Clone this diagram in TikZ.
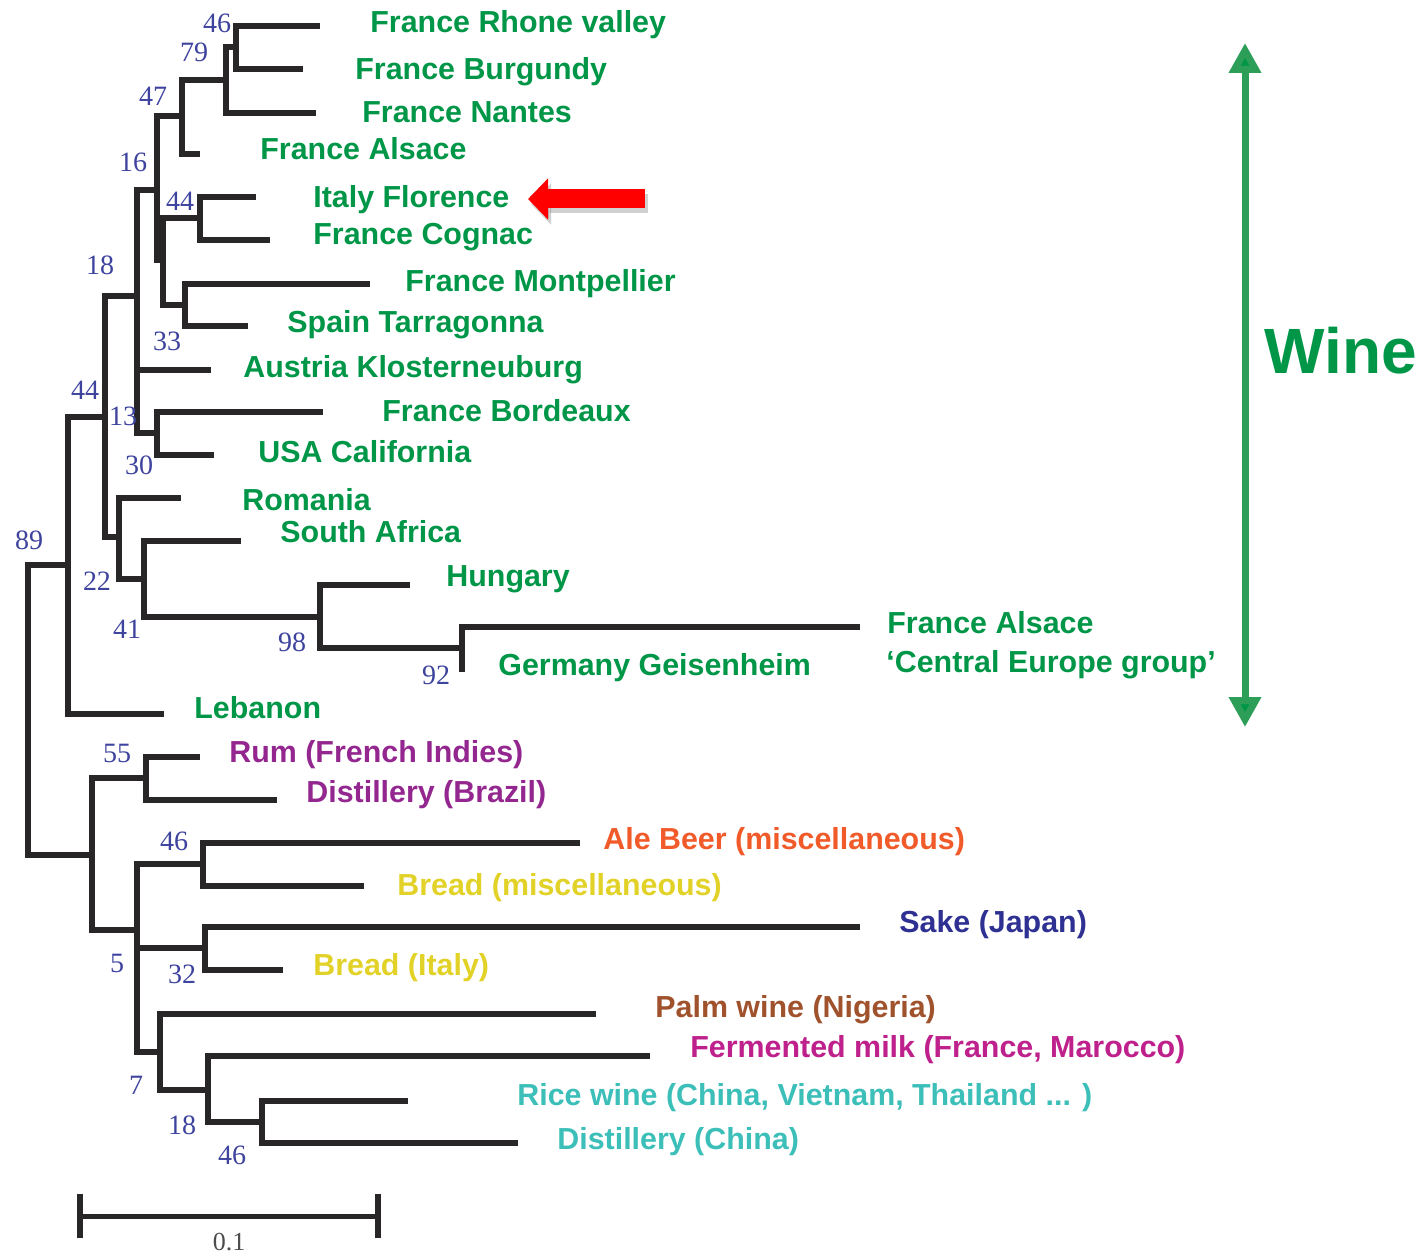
\documentclass[tikz,border=0pt]{standalone}
\usepackage{fontspec}
\setmainfont{Liberation Sans}
\newfontfamily\serifnum{Liberation Serif}
\usetikzlibrary{arrows.meta}
\definecolor{wgreen}{RGB}{0,150,72}
\definecolor{wshaft}{RGB}{45,158,88}
\definecolor{rumpurple}{RGB}{147,39,143}
\definecolor{aleorange}{RGB}{241,90,41}
\definecolor{breadyellow}{RGB}{226,210,40}
\definecolor{sakenavy}{RGB}{46,49,146}
\definecolor{palmbrown}{RGB}{160,82,45}
\definecolor{milkmagenta}{RGB}{190,32,140}
\definecolor{ricecyan}{RGB}{60,190,185}
\definecolor{bootblue}{RGB}{62,67,158}
\definecolor{treegray}{RGB}{40,38,38}
\definecolor{arrowred}{RGB}{255,0,0}
\tikzset{
  branch/.style={draw=treegray, line width=2.6pt, line join=miter},
  leaf/.style={anchor=base west, inner sep=0pt, font=\fontsize{15.2}{18}\selectfont\bfseries},
  boot/.style={inner sep=0pt, text=bootblue, font=\serifnum\fontsize{14}{16}\selectfont},
}
\begin{document}
\begin{tikzpicture}[x=0.5pt,y=-0.5pt]
\useasboundingbox (0,0) rectangle (1419,1257);
% ---- leaf tips ----
\coordinate (L1) at (320,26);
\coordinate (L2) at (303,69);
\coordinate (L3) at (316,113);
\coordinate (L4) at (200,154);
\coordinate (L5) at (256,197);
\coordinate (L6) at (270,240);
\coordinate (L7) at (370,284);
\coordinate (L8) at (248,326);
\coordinate (L9) at (211,370);
\coordinate (L10) at (323,412);
\coordinate (L11) at (214,455);
\coordinate (L12) at (181,498);
\coordinate (L13) at (241,541);
\coordinate (L14) at (410,585);
\coordinate (L15) at (860,627);
\coordinate (L16) at (462,672);
\coordinate (L17) at (164,714);
\coordinate (L18) at (200,757);
\coordinate (L19) at (277,800);
\coordinate (L20) at (580,843);
\coordinate (L21) at (364,886);
\coordinate (L22) at (860,927);
\coordinate (L23) at (283,970);
\coordinate (L24) at (596,1014);
\coordinate (L25) at (650,1056);
\coordinate (L26) at (408,1101);
\coordinate (L27) at (518,1143);
% ---- internal nodes ----
\coordinate (a46) at (236,47);
\coordinate (a79) at (226,80);
\coordinate (a47) at (182,116);
\coordinate (a44i) at (200,218);
\coordinate (a33) at (185,305);
\coordinate (a44b) at (163,260);
\coordinate (a16) at (157,190);
\coordinate (a30) at (157,433);
\coordinate (a13) at (137,296);
\coordinate (a92) at (462,648);
\coordinate (a98) at (320,617);
\coordinate (a41) at (144,579);
\coordinate (a22) at (119,537);
\coordinate (a18) at (105,417);
\coordinate (a44) at (68,565);
\coordinate (a89) at (28,710);
\coordinate (b) at (92,855);
\coordinate (a55) at (146,778);
\coordinate (a5) at (137,930);
\coordinate (a46b) at (203,864);
\coordinate (a32) at (205,948);
\coordinate (a7) at (160,1052);
\coordinate (a18b) at (208,1090);
\coordinate (a46c) at (262,1122);
% ---- branches ----
\draw[branch] (a46) |- (L1);
\draw[branch] (a46) |- (L2);
\draw[branch] (a79) |- (a46);
\draw[branch] (a79) |- (L3);
\draw[branch] (a47) |- (a79);
\draw[branch] (a47) |- (L4);
\draw[branch] (a44i) |- (L5);
\draw[branch] (a44i) |- (L6);
\draw[branch] (a33) |- (L7);
\draw[branch] (a33) |- (L8);
\draw[branch] (a44b) |- (a44i);
\draw[branch] (a44b) |- (a33);
\draw[branch] (a16) |- (a47);
\draw[branch] (a16) |- (a44b);
\draw[branch] (a30) |- (L10);
\draw[branch] (a30) |- (L11);
\draw[branch] (a13) |- (a16);
\draw[branch] (a13) |- (L9);
\draw[branch] (a13) |- (a30);
\draw[branch] (a92) |- (L15);
\draw[branch] (a92) |- (L16);
\draw[branch] (a98) |- (L14);
\draw[branch] (a98) |- (a92);
\draw[branch] (a41) |- (L13);
\draw[branch] (a41) |- (a98);
\draw[branch] (a22) |- (L12);
\draw[branch] (a22) |- (a41);
\draw[branch] (a18) |- (a13);
\draw[branch] (a18) |- (a22);
\draw[branch] (a44) |- (a18);
\draw[branch] (a44) |- (L17);
\draw[branch] (a89) |- (a44);
\draw[branch] (a89) |- (b);
\draw[branch] (b) |- (a55);
\draw[branch] (b) |- (a5);
\draw[branch] (a55) |- (L18);
\draw[branch] (a55) |- (L19);
\draw[branch] (a5) |- (a46b);
\draw[branch] (a5) |- (a32);
\draw[branch] (a5) |- (a7);
\draw[branch] (a46b) |- (L20);
\draw[branch] (a46b) |- (L21);
\draw[branch] (a32) |- (L22);
\draw[branch] (a32) |- (L23);
\draw[branch] (a7) |- (L24);
\draw[branch] (a7) |- (a18b);
\draw[branch] (a18b) |- (L25);
\draw[branch] (a18b) |- (a46c);
\draw[branch] (a46c) |- (L26);
\draw[branch] (a46c) |- (L27);
% ---- bootstrap values ----
\node[boot] (bs1) at (217,23) {46};
\node[boot] (bs2) at (194,52) {79};
\node[boot] (bs3) at (153,96) {47};
\node[boot] (bs4) at (133,162) {16};
\node[boot] (bs5) at (180,201) {44};
\node[boot] (bs6) at (100,265) {18};
\node[boot] (bs7) at (167,341) {33};
\node[boot] (bs8) at (85,390) {44};
\node[boot] (bs9) at (123,416) {13};
\node[boot] (bs10) at (139,465) {30};
\node[boot] (bs11) at (29,540) {89};
\node[boot] (bs12) at (97,581) {22};
\node[boot] (bs13) at (127,629) {41};
\node[boot] (bs14) at (292,642) {98};
\node[boot] (bs15) at (436,675) {92};
\node[boot] (bs16) at (117,753) {55};
\node[boot] (bs17) at (174,841) {46};
\node[boot] (bs18) at (117,963) {5};
\node[boot] (bs19) at (182,974) {32};
\node[boot] (bs20) at (136,1085) {7};
\node[boot] (bs21) at (182,1125) {18};
\node[boot] (bs22) at (232,1155) {46};
% ---- leaf labels ----
\node[leaf, text=wgreen] (t1) at (370,33) {France Rhone valley};
\node[leaf, text=wgreen] (t2) at (355,80) {France Burgundy};
\node[leaf, text=wgreen] (t3) at (362,123) {France Nantes};
\node[leaf, text=wgreen] (t4) at (260,160) {France Alsace};
\node[leaf, text=wgreen] (t5) at (313,208) {Italy Florence};
\node[leaf, text=wgreen] (t6) at (313,245) {France Cognac};
\node[leaf, text=wgreen] (t7) at (405,292) {France Montpellier};
\node[leaf, text=wgreen] (t8) at (287,332) {Spain Tarragonna};
\node[leaf, text=wgreen] (t9) at (243,378) {Austria Klosterneuburg};
\node[leaf, text=wgreen] (t10) at (382,421) {France Bordeaux};
\node[leaf, text=wgreen] (t11) at (258,462) {USA California};
\node[leaf, text=wgreen] (t12) at (242,510) {Romania};
\node[leaf, text=wgreen] (t13) at (280,542) {South Africa};
\node[leaf, text=wgreen] (t14) at (446,586) {Hungary};
\node[leaf, text=wgreen] (t15) at (887,633) {France Alsace};
\node[leaf, text=wgreen] (t16) at (886,672) {‘Central Europe group’};
\node[leaf, text=wgreen] (t17) at (498,675) {Germany Geisenheim};
\node[leaf, text=wgreen] (t18) at (194,718) {Lebanon};
\node[leaf, text=rumpurple] (t19) at (229,762) {Rum (French Indies)};
\node[leaf, text=rumpurple] (t20) at (306,802) {Distillery (Brazil)};
\node[leaf, text=aleorange] (t21) at (603,849) {Ale Beer (miscellaneous)};
\node[leaf, text=breadyellow] (t22) at (397,895) {Bread (miscellaneous)};
\node[leaf, text=sakenavy] (t23) at (899,932) {Sake (Japan)};
\node[leaf, text=breadyellow] (t24) at (313,975) {Bread (Italy)};
\node[leaf, text=palmbrown] (t25) at (655,1017) {Palm wine (Nigeria)};
\node[leaf, text=milkmagenta] (t26) at (690,1057) {Fermented milk (France, Marocco)};
\node[leaf, text=ricecyan] (t27) at (517,1105) {Rice wine (China, Vietnam, Thailand ... )};
\node[leaf, text=ricecyan] (t28) at (557,1149) {Distillery (China)};
% ---- Wine bracket arrow ----
\coordinate (wtop) at (1245,43);
\coordinate (wbot) at (1245,727);
\draw[wshaft, line width=3.5pt, {Triangle[length=15pt,width=15.5pt,fill=wgreen]}-{Triangle[length=15pt,width=15.5pt,fill=wgreen]}] (wtop) -- (wbot);
\node[anchor=base west, inner sep=0pt, text=wgreen, font=\fontsize{32}{36}\selectfont\bfseries] (wine) at (1264,373) {Wine};
% ---- red arrow ----
\coordinate (ra1) at (645,199);
\coordinate (ra2) at (528,199);
\draw[black, opacity=0.18, line width=9.5pt, -{Triangle[length=10pt,width=20pt]}] ([shift={(3,5)}]ra1) -- ([shift={(3,5)}]ra2);
\draw[arrowred, line width=9.5pt, -{Triangle[length=10pt,width=20pt]}] (ra1) -- (ra2);
% ---- scale bar ----
\coordinate (sb1) at (80,1216);
\coordinate (sb2) at (378,1216);
\draw[treegray, line width=2.5pt] (sb1) -- (sb2);
\draw[treegray, line width=3pt] ([yshift=-11]sb1) -- ([yshift=11]sb1);
\draw[treegray, line width=3pt] ([yshift=-11]sb2) -- ([yshift=11]sb2);
\node[anchor=base, inner sep=0pt, text=black!70, font=\serifnum\fontsize{13}{15}\selectfont] (sblab) at (229,1250) {0.1};
\end{tikzpicture}
\end{document}
